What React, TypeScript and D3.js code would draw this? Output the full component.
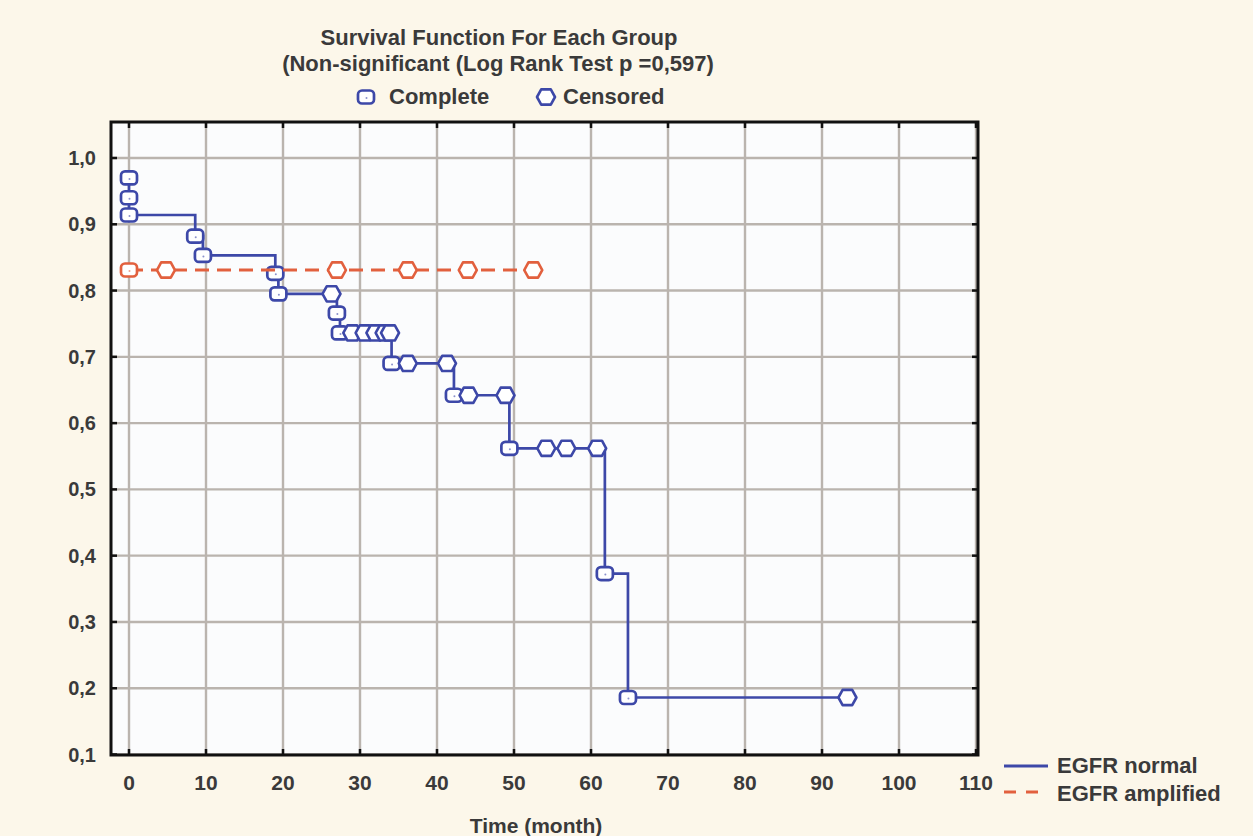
import React from "react";
import * as d3 from "d3";

// Kaplan-Meier estimates, EGFR normal group: events (complete) and censored times
const normalEventTime = [0, 0, 0, 8.6, 9.6, 19.0, 19.4, 27.0, 27.4, 34.1, 42.2, 49.4, 61.8, 64.8];
const normalEventSurv = [0.970, 0.940, 0.914, 0.882, 0.853, 0.826, 0.795, 0.766, 0.736, 0.690, 0.642, 0.562, 0.373, 0.186];
const normalCensorTime = [26.3, 29.0, 30.6, 32.0, 33.2, 33.9, 36.2, 41.3, 44.1, 48.9, 54.2, 56.8, 60.8, 93.3];
const normalCensorSurv = [0.795, 0.736, 0.736, 0.736, 0.736, 0.736, 0.690, 0.690, 0.642, 0.642, 0.562, 0.562, 0.562, 0.186];

// EGFR amplified group
const amplifiedEventTime = [0];
const amplifiedEventSurv = [0.831];
const amplifiedCensorTime = [4.8, 27.0, 36.2, 44.0, 52.5];
const amplifiedCensorSurv = [0.831, 0.831, 0.831, 0.831, 0.831];

const timeTicks = [0, 10, 20, 30, 40, 50, 60, 70, 80, 90, 100, 110];
const survTicks = [0.1, 0.2, 0.3, 0.4, 0.5, 0.6, 0.7, 0.8, 0.9, 1.0];

const titleLines = ["Survival Function For Each Group", "(Non-significant (Log Rank Test p =0,597)"];
const seriesNames = ["EGFR normal", "EGFR amplified"];
const markerNames = ["Complete", "Censored"];
const xAxisTitle = "Time (month)";

const W = 1253;
const H = 836;
const frame = { left: 111, right: 978, top: 122, bottom: 755 };

const BLUE = "#3d48a8";
const RED = "#e2603e";
const GRID = "#bab4ae";
const TEXT = "#3a3a3a";
const FONT = "'Liberation Sans', Arial, sans-serif";

const x = d3.scaleLinear().domain([0, 110]).range([129, 976]);
const y = d3.scaleLinear().domain([0.1, 1.0]).range([754.5, 158]);

function stepPoints(et: number[], es: number[], endT: number): [number, number][] {
  const pts: [number, number][] = [[et[0], es[0]]];
  for (let i = 1; i < et.length; i++) {
    pts.push([et[i], es[i - 1]]);
    pts.push([et[i], es[i]]);
  }
  pts.push([endT, es[es.length - 1]]);
  return pts;
}

const line = d3
  .line<[number, number]>()
  .x((d) => x(d[0]))
  .y((d) => y(d[1]));

function CompleteMark({ cx, cy, color }: { cx: number; cy: number; color: string }) {
  return (
    <g transform={`translate(${cx},${cy})`}>
      <rect x={-8} y={-6.5} width={16} height={13} rx={4} ry={4} fill="#ffffff" stroke={color} strokeWidth={2.7} />
      <circle cx={0.5} cy={1} r={1} fill={color} opacity={0.6} />
    </g>
  );
}

const hexPath = "M-9,0 L-4.8,-7.6 L4.8,-7.6 L9,0 L4.8,7.6 L-4.8,7.6 Z";

function CensorMark({ cx, cy, color }: { cx: number; cy: number; color: string }) {
  return (
    <path
      transform={`translate(${cx},${cy})`}
      d={hexPath}
      fill="#ffffff"
      stroke={color}
      strokeWidth={2.6}
      strokeLinejoin="round"
    />
  );
}

const fmt = (v: number) => v.toFixed(1).replace(".", ",");

export default function App() {
  const normalPts = stepPoints(normalEventTime, normalEventSurv, 93.3);
  const amplifiedPts: [number, number][] = [
    [0, amplifiedEventSurv[0]],
    [52.5, amplifiedEventSurv[0]],
  ];

  const textStyle = { fontFamily: FONT, fontWeight: 700, fill: TEXT } as const;

  return (
    <svg
      width={W}
      height={H}
      style={{ position: "absolute", left: 0, top: 0, display: "block" }}
      xmlns="http://www.w3.org/2000/svg"
    >
      <rect x={0} y={0} width={W} height={H} fill="#fcf7ea" />

      {/* title */}
      <text x={499} y={45} textAnchor="middle" fontSize={22} style={textStyle}>
        {titleLines[0]}
      </text>
      <text x={498} y={71} textAnchor="middle" fontSize={22} style={textStyle}>
        {titleLines[1]}
      </text>

      {/* marker legend */}
      <CompleteMark cx={366} cy={97} color={BLUE} />
      <text x={389} y={104} fontSize={22} style={textStyle}>
        {markerNames[0]}
      </text>
      <CensorMark cx={546} cy={97} color={BLUE} />
      <text x={563} y={104} fontSize={22} style={textStyle}>
        {markerNames[1]}
      </text>

      {/* plot area */}
      <rect
        x={frame.left}
        y={frame.top}
        width={frame.right - frame.left}
        height={frame.bottom - frame.top}
        fill="#fbfcfd"
      />

      {/* grid */}
      {timeTicks.map((t) => (
        <line key={`gx${t}`} x1={x(t)} x2={x(t)} y1={frame.top} y2={frame.bottom} stroke={GRID} strokeWidth={2.4} />
      ))}
      {survTicks.map((s) => (
        <line key={`gy${s}`} x1={frame.left} x2={frame.right} y1={y(s)} y2={y(s)} stroke={GRID} strokeWidth={2.4} />
      ))}

      {/* EGFR normal */}
      <path d={line(normalPts) ?? ""} fill="none" stroke={BLUE} strokeWidth={2.7} />
      {normalEventTime.map((t, i) => (
        <CompleteMark key={`ne${i}`} cx={x(t)} cy={y(normalEventSurv[i])} color={BLUE} />
      ))}
      {normalCensorTime.map((t, i) => (
        <CensorMark key={`nc${i}`} cx={x(t)} cy={y(normalCensorSurv[i])} color={BLUE} />
      ))}

      {/* EGFR amplified */}
      <path d={line(amplifiedPts) ?? ""} fill="none" stroke={RED} strokeWidth={3} strokeDasharray="14,8" />
      {amplifiedEventTime.map((t, i) => (
        <CompleteMark key={`ae${i}`} cx={x(t)} cy={y(amplifiedEventSurv[i])} color={RED} />
      ))}
      {amplifiedCensorTime.map((t, i) => (
        <CensorMark key={`ac${i}`} cx={x(t)} cy={y(amplifiedCensorSurv[i])} color={RED} />
      ))}

      {/* frame and ticks */}
      <rect
        x={frame.left}
        y={frame.top}
        width={frame.right - frame.left}
        height={frame.bottom - frame.top}
        fill="none"
        stroke="#111"
        strokeWidth={3}
      />
      {timeTicks.map((t) => (
        <g key={`tx${t}`}>
          <line x1={x(t)} x2={x(t)} y1={frame.bottom} y2={frame.bottom - 6} stroke="#111" strokeWidth={2.5} />
          <line x1={x(t)} x2={x(t)} y1={frame.top} y2={frame.top + 6} stroke="#111" strokeWidth={2.5} />
          <text x={x(t)} y={790} textAnchor="middle" fontSize={21} style={textStyle}>
            {t}
          </text>
        </g>
      ))}
      {survTicks.map((s) => (
        <g key={`ty${s}`}>
          <line x1={frame.left} x2={frame.left + 6} y1={y(s)} y2={y(s)} stroke="#111" strokeWidth={2.5} />
          <line x1={frame.right} x2={frame.right - 6} y1={y(s)} y2={y(s)} stroke="#111" strokeWidth={2.5} />
          <text x={96} y={y(s) + 7} textAnchor="end" fontSize={20} style={textStyle}>
            {fmt(s)}
          </text>
        </g>
      ))}

      <text x={536} y={833} textAnchor="middle" fontSize={21} style={textStyle}>
        {xAxisTitle}
      </text>

      {/* series legend */}
      <line x1={1004} x2={1048} y1={766} y2={766} stroke={BLUE} strokeWidth={3} />
      <text x={1057} y={773} fontSize={22} style={textStyle}>
        {seriesNames[0]}
      </text>
      <line x1={1004} x2={1048} y1={792} y2={792} stroke={RED} strokeWidth={3} strokeDasharray="12,10" />
      <text x={1057} y={801} fontSize={22} style={textStyle}>
        {seriesNames[1]}
      </text>
    </svg>
  );
}
